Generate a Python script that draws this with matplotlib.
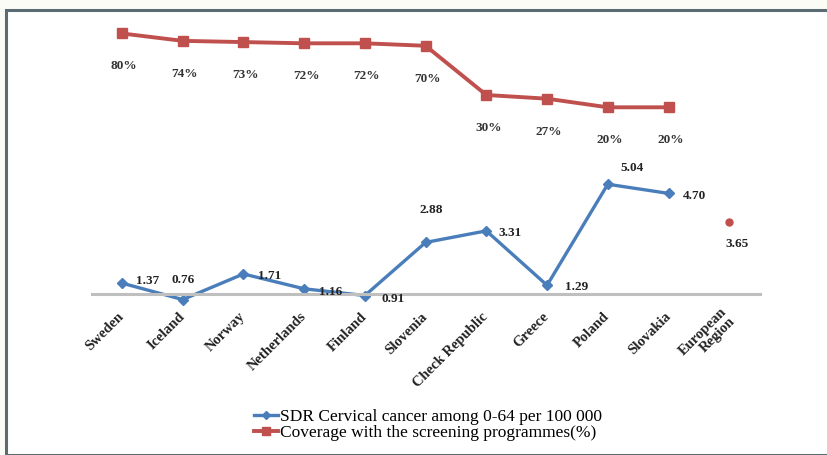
import numpy as np
import matplotlib
matplotlib.use("Agg")
import matplotlib.pyplot as plt
from matplotlib.patches import Rectangle

countries = ['Sweden', 'Iceland', 'Norway', 'Netherlands', 'Finland', 'Slovenia',
             'Check Republic', 'Greece', 'Poland', 'Slovakia', 'European\nRegion']
sdr = [1.37, 0.76, 1.71, 1.16, 0.91, 2.88, 3.31, 1.29, 5.04, 4.70]
sdr_europe = 3.65
coverage = [80, 74, 73, 72, 72, 70, 30, 27, 20, 20]
coverage_labels = ['80%', '74%', '73%', '72%', '72%', '70%', '30%', '27%', '20%', '20%']
# where each sdr label sits relative to its point (pixels)
sdr_offsets = [(26, 2), (0, 20), (26, -2), (26, -3), (28, -3), (6, 32),
               (24, -2), (30, -2), (24, 16), (26, -3)]

blue = '#4a7ebb'
red = '#c0504d'
serif = ['Liberation Serif', 'DejaVu Serif']
plt.rcParams['font.family'] = serif

fig = plt.figure(figsize=(8.28, 4.55), dpi=100)
fig.patch.set_facecolor('#fcfcf6')
fig.patches.append(Rectangle((6 / 828, 0), 1, 1 - 10 / 455, transform=fig.transFigure,
                             facecolor='white', edgecolor='#5b6b73', linewidth=2.2,
                             zorder=-10))

ax = fig.add_axes([0.1106, 0.2747, 0.8068, 0.6923])
ax.set_facecolor('none')
x = np.arange(len(countries))

ax.plot(x[:len(sdr)], sdr, color=blue, lw=2.4, marker='D', ms=5,
        label='SDR Cervical cancer among 0-64 per 100 000')
ax.plot(x[-1], sdr_europe, 'o', color=red, ms=5)
for xi, v, off in zip(x, sdr, sdr_offsets):
    ax.annotate(f'{v:.2f}', (xi, v), xytext=off, textcoords='offset pixels',
                ha='center', va='center', fontsize=9.5, fontweight='bold', color='#222222')
ax.annotate(f'{sdr_europe:.2f}', (x[-1], sdr_europe), xytext=(8, -22),
            textcoords='offset pixels', ha='center', va='center',
            fontsize=9.5, fontweight='bold', color='#222222')

ax.set_xlim(-0.5, len(countries) - 0.5)
ax.set_ylim(-0.37, 11.32)
for s in ['top', 'left', 'right']:
    ax.spines[s].set_visible(False)
ax.spines['bottom'].set_position(('data', 0.97))
ax.spines['bottom'].set_color('#bfbfbf')
ax.spines['bottom'].set_linewidth(2.2)
ax.set_yticks([])
ax.set_xticks(x)
ax.set_xticklabels(countries, rotation=45, ha='right', va='center',
                   rotation_mode='anchor', fontsize=10.5, fontweight='bold', color='#222222',
                   linespacing=0.95)
ax.tick_params(axis='x', length=0, pad=15)

ax2 = ax.twinx()
ax2.plot(x[:len(coverage)], coverage, color=red, lw=2.8, marker='s', ms=7,
         label='Coverage with the screening programmes(%)')
for xi, v, lab in zip(x, coverage, coverage_labels):
    ax2.annotate(lab, (xi, v), xytext=(2, -33), textcoords='offset pixels',
                 ha='center', va='center', fontsize=9.5, fontweight='bold', color='#333333')
ax2.set_ylim(-161, 95)
ax2.axis('off')

h1, l1 = ax.get_legend_handles_labels()
h2, l2 = ax2.get_legend_handles_labels()
fig.legend(h1 + h2, l1 + l2, loc='center', bbox_to_anchor=(0.517, 0.066), frameon=False,
           fontsize=12.5, handlelength=1.4, handletextpad=0.1, labelspacing=0.0,
           borderpad=0, markerscale=0.8)

fig.savefig('out.png', dpi=100, facecolor=fig.get_facecolor())
